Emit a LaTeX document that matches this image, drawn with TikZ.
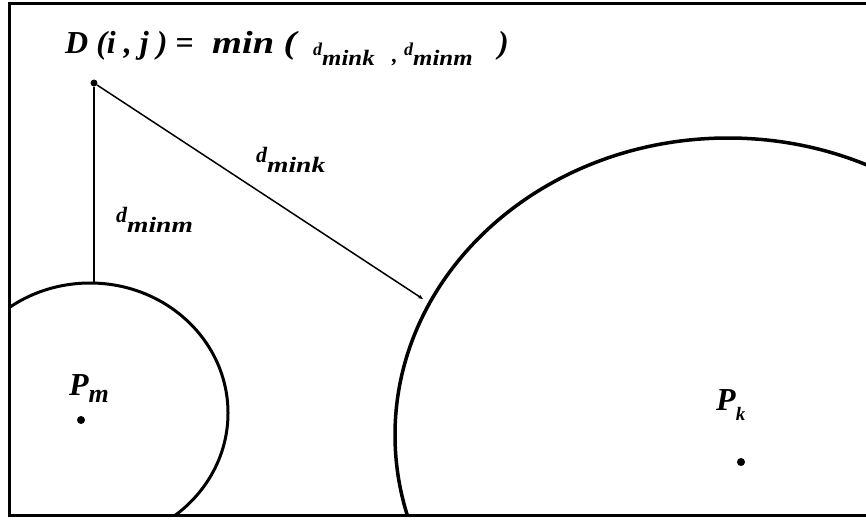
\documentclass[tikz,border=0pt]{standalone}
\usepackage{fontspec}
\setmainfont{Liberation Serif}
\usetikzlibrary{positioning,arrows.meta,shapes.geometric}
\tikzset{
  frame/.style={line width=3pt},
  ring/.style={draw, ellipse, line width=3pt, inner sep=0pt, outer sep=0pt},
  seg/.style={line width=1.8pt},
  spot/.style={fill=black, circle, inner sep=0pt, minimum size=7pt},
  lbl/.style={font=\bfseries\itshape, inner sep=0pt, anchor=base west}
}
% d with a lowered, widened subscript
\newcommand{\dsub}[4]{{\fontsize{#1}{#1}\selectfont d}\raisebox{-10pt}{\scalebox{#3}[1]{\fontsize{#2}{#2}\selectfont #4}}}

\begin{document}
\begin{tikzpicture}[x=1pt,y=-1pt]
    \useasboundingbox (0,0) rectangle (866,523);
    \begin{scope}
      \clip (9,3) rectangle (866,515);
      \node[ring, minimum width=276pt, minimum height=260pt] (cm) at (90,413) {};
      \node[ring, line width=3.5pt, minimum width=666pt, minimum height=594pt] (ck) at (728,435) {};
    \end{scope}
    \draw[frame] (870,3) -- (9,3) -- (9,515) -- (870,515);

    \node[spot] (D) at (94,83) {};
    \node[spot, minimum size=8pt] (Pm) at (81,420) {};
    \node[spot, minimum size=8pt] (Pk) at (741,462) {};
    \coordinate (mtop) at (D |- cm.north);
    \coordinate (ktip) at (423,299);

    \draw[seg] (D) -- (mtop);
    \draw[seg, line width=1.5pt, -{Stealth[length=5pt,width=4pt]}] (D) -- (ktip);

    % title
    \node[lbl] (tD) at (65,53) {\fontsize{32}{32}\selectfont D (i , j ) =};
    \node[lbl] (tmin) at (212,53) {\scalebox{1.2}[1]{\fontsize{32}{32}\selectfont min (}};
    \node[lbl] (tk) at (313,55) {\dsub{18}{22}{1.13}{mink}};
    \node[lbl] (tc) at (392,62) {\fontsize{22}{22}\selectfont ,};
    \node[lbl] (tm) at (404,55) {\dsub{18}{22}{1.13}{minm}};
    \node[lbl] (te) at (498,53) {\fontsize{32}{32}\selectfont )};

    % distances and points
    \node[lbl] (lm) at (116,222) {\dsub{22}{22}{1.25}{minm}};
    \node[lbl] (lk) at (256,162) {\dsub{22}{22}{1.25}{mink}};
    \node[lbl] (lPm) at (69,395) {\fontsize{32}{32}\selectfont P\raisebox{-7pt}{\fontsize{26}{26}\selectfont m}};
    \node[lbl] (lPk) at (716,410) {\fontsize{32}{32}\selectfont P\raisebox{-10pt}{\fontsize{19}{19}\selectfont k}};
\end{tikzpicture}
\end{document}
